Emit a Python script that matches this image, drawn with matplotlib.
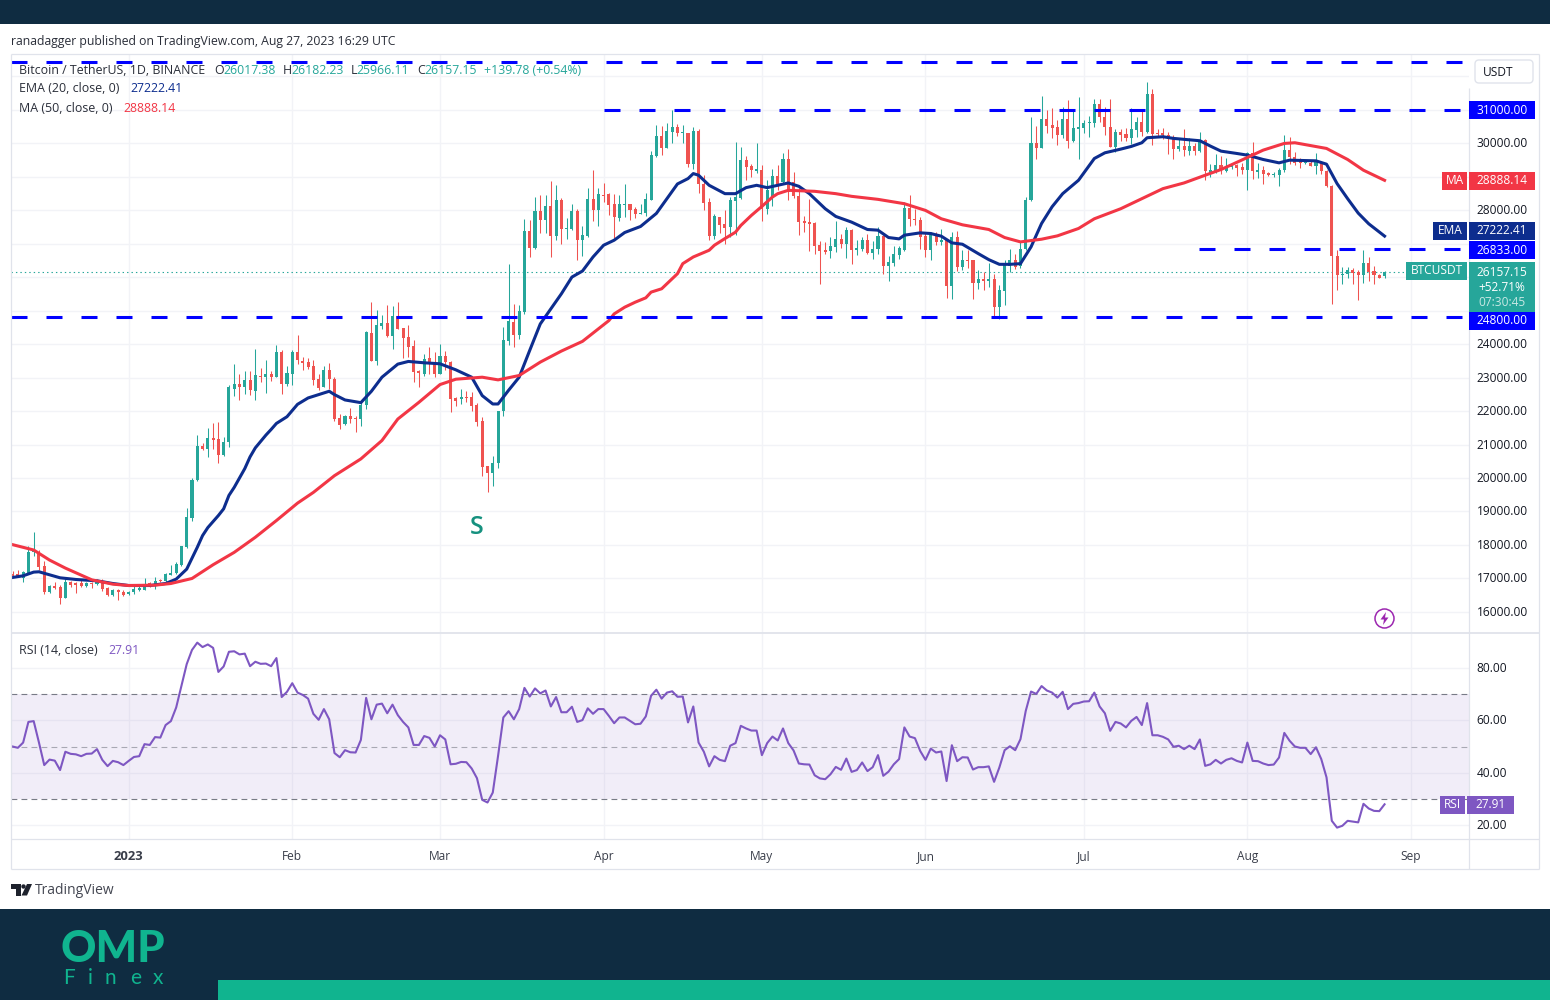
import matplotlib
matplotlib.use("Agg")
import matplotlib.pyplot as plt
from matplotlib.patches import Rectangle, FancyBboxPatch, Circle, Polygon
from matplotlib.transforms import ScaledTranslation

plt.rcParams['font.family'] = ['Open Sans', 'DejaVu Sans']
plt.rcParams['lines.scale_dashes'] = False

# ---------- data (day 0 = 1 Jan 2023, last candle = 27 Aug 2023) ----------
opens = [17130,17130,17000,17130,17780,17780,17360,16610,16780,16750,
16430,16890,16850,16850,16770,16860,16830,16930,16710,16510,
16650,16610,16530,16590,16670,16670,16850,16780,16950,16910,
17110,17150,17410,17930,18810,19930,20950,20880,21190,21150,
20680,21070,22650,22810,22710,22930,22610,23060,23010,23100,
23030,23760,22810,23110,23770,
23500,23450,23340,22950,22730,23230,22960,21790,21610,21850,
21800,21750,22170,24330,23490,24540,24620,24230,24850,24470,
24210,23930,23190,23110,23570,23460,23110,23650,23470,22390,
22350,22430,22430,22190,21710,20360,20140,20440,21990,24090,
24660,24260,24950,27380,26880,27970,27700,28110,27240,28310,
27420,27420,27970,27100,27240,28340,28010,28460,28470,28170,
27770,28140,28170,28040,27880,27900,28310,29620,30210,29850,
30340,30470,30290,30310,29390,30370,28790,28230,27220,27800,
27580,27490,28280,28370,29490,29320,29180,29210,28040,28370,
29030,28840,29510,28840,28410,27670,27640,27620,26960,26800,
26770,26900,27150,27000,27410,26800,26850,27120,26720,26830,
27220,26320,26430,26660,26820,28070,27740,27690,27220,26800,
27250,27050,27120,25720,27210,26300,26500,26500,25820,25930,
25880,25930,25100,25580,26330,26520,26320,26850,28290,30010,
29840,30710,30540,30490,30240,30710,30070,30410,30440,30590,
30610,31160,30770,30490,29870,30340,30270,30150,30390,30640,
30340,31460,30300,30290,30240,30140,29830,29910,29770,29910,
29770,30090,29090,29170,29340,29170,29290,29350,29290,29190,
29690,29150,29190,29110,29040,29050,29190,29790,29570,29470,
29410,29410,29310,29440,29170,28710,26620,26060,26080,26200,
26140,26060,26420,26180,26060,26017.38]

highs = [17230,17250,17230,17980,18380,17850,17530,16810,16880,16810,
17030,16930,16880,16980,16880,16880,16980,16980,16750,16680,
16680,16650,16630,16810,16780,17010,16880,17050,16980,17150,
17410,17480,17980,19110,20010,21290,21050,21480,21650,21680,
21210,22770,23400,23100,23200,23200,23850,23280,23530,23200,
23980,23810,23330,23810,24280,
23610,23590,23510,23110,23330,23430,23010,21910,21890,22090,
21860,22310,24390,25250,25020,24880,25180,25140,25250,24490,
24580,24130,23210,23710,23910,23760,24010,23790,23490,22410,
22650,22610,22560,22230,21810,20370,20670,22010,24500,26400,
25200,25180,27740,27710,28390,28460,28440,28860,28760,28370,
27770,28190,28040,27510,28660,29190,28660,28810,28510,28470,
28440,28770,28170,28090,28190,28510,29770,30540,30510,30610,
31000,30570,30540,30310,30470,30410,29040,28370,27890,27800,
27990,28390,30040,29890,29610,29390,29990,29340,28890,29240,
29340,29690,29810,29140,28670,27810,28340,27640,27080,27050,
27200,27670,27280,27490,27440,27100,27200,27280,27080,27480,
27250,26620,26920,26920,28240,28440,28040,27790,27350,27340,
27340,27440,27140,27340,27370,26820,26800,26520,26200,26150,
26420,26100,25750,26500,26850,26680,27050,28390,30790,30510,
31400,30980,31060,30690,31080,31280,30980,31380,30690,30800,
31330,31330,31080,31330,30410,30410,30440,31060,30790,30990,
31810,31610,30410,30440,30340,30240,30140,30410,30140,30010,
30340,30110,29370,29670,29610,29540,29410,29390,29410,29740,
30040,29410,29310,29130,29140,29270,30240,30170,29740,29540,
29470,29470,29690,29470,29210,28740,26820,26300,26300,26280,
26200,26820,26600,26320,26100,26182.23]

lows = [17030,17030,16880,17130,17680,17250,16550,16580,16680,16250,
16430,16750,16580,16750,16750,16730,16810,16630,16480,16480,
16350,16480,16510,16550,16630,16650,16750,16680,16880,16880,
17110,17130,17380,17910,18730,19910,20830,20630,20880,20450,
20670,20930,22450,22330,22510,22480,22330,22880,22550,22910,
23010,22510,22750,22780,23410,
23210,23260,22790,22630,22710,22660,21710,21450,21590,21650,
21360,21550,22070,23490,23360,24460,24210,23850,24450,23590,
23610,22860,22730,23060,23110,23010,23110,23230,21960,22160,
22210,22260,22010,21560,20070,19570,19770,20300,21840,23960,
23910,24160,24900,26600,26850,27320,27320,26600,27120,26990,
27140,27410,26500,26620,27210,27670,27510,28240,27840,27170,
27670,27790,27710,27770,27880,27810,28290,29590,29640,29840,
29990,30210,29990,29290,29240,28510,28010,27110,27150,27320,
26980,27200,27250,28340,28890,28990,29110,27670,27870,28110,
28610,28790,28310,28370,27260,27350,26780,26700,25800,26700,
26580,26740,26880,26580,26380,26650,26780,26680,26540,26700,
26080,25880,26330,26550,26780,27510,27540,26850,26600,26500,
26950,26950,25380,25350,26180,26200,26280,25350,25650,25600,
25700,24820,24750,25180,26150,26250,26280,26800,28270,29510,
29840,30290,30140,29940,30140,29840,30040,29530,30310,30170,
30490,30640,30240,29870,29740,30070,30070,29970,30190,30210,
30290,29930,30210,30110,29670,29530,29770,29610,29640,29640,
29740,28890,28990,29110,29070,29140,29240,29030,29090,28610,
28940,28970,28790,29010,28990,28710,29140,29370,29350,29270,
29390,29310,29090,29070,28690,25200,25620,25800,25980,25800,
25320,25820,25880,25780,25980,25966.11]

closes = [17070,17070,17200,17800,17850,17330,16610,16780,16730,16430,
16900,16810,16810,16770,16850,16830,16930,16680,16510,16650,
16610,16510,16610,16680,16730,16830,16790,16930,16910,17130,
17150,17430,17960,18850,19950,20950,20880,21190,21130,20680,
21080,22710,22810,22730,22930,22630,23070,23010,23100,23010,
23760,22810,23130,23770,23510,
23430,23310,22930,22690,23230,22960,21760,21590,21850,21760,
21750,22190,24350,23490,24560,24620,24230,24850,24450,24170,
23910,23160,23130,23560,23460,23110,23650,23460,22350,22290,
22430,22390,22160,21660,20340,20140,20460,21990,24130,24680,
24260,24980,27380,26880,27970,27700,28110,27240,28290,27440,
27460,27970,27100,27250,28340,28010,28470,28430,28140,27790,
28170,28170,28010,27870,27920,28330,29650,30210,29840,30370,
30470,30290,30320,29390,30370,28790,28210,27240,27810,27560,
27470,28290,28390,29490,29290,29190,29220,28040,28610,29010,
28790,29510,28540,28410,27640,27610,27570,26940,26770,26750,
26920,27150,27000,27400,26800,26880,27120,26720,26850,27220,
26320,26450,26680,26860,28070,27720,27690,27200,26800,27260,
27050,27120,25720,27210,26300,26500,26470,25820,25930,25880,
25930,25100,25600,26400,26520,26300,26850,28290,30010,29840,
30710,30510,30440,30240,30710,30070,30440,30470,30610,30640,
31160,30770,30490,29870,30340,30240,30140,30410,30640,30340,
31460,30270,30260,30240,30110,29830,29910,29790,29910,29760,
30090,29170,29210,29340,29190,29290,29350,29270,29210,29690,
29170,29190,29070,29040,29090,29210,29790,29570,29410,29410,
29440,29310,29440,29170,28710,26620,26050,26100,26200,26130,
26050,26420,26160,26060,25980,26157.15]

rsi = [50,49.5,51.5,59.4,59.7,51.5,42.9,45,44.6,41,
48,47.2,47,46.3,47.2,47.3,49,44.9,42.5,44.5,
44,42.9,44.5,46,46.3,50.9,50.6,53.6,53.4,58.2,
59.7,64.9,73.2,81.5,86.9,89.7,88,89,87.7,78.5,
80.6,86.2,86.4,85.2,85.5,80.7,82.4,81.6,81.7,80.7,
83.8,68.9,70.9,74.2,70.6,69.7,68.3,62.5,60.2,64.3,
60.4,47.5,45.9,48.6,47.8,47.7,52.5,68.6,60.4,66,
66.4,62.7,66,62,59.4,57.3,50.6,50.6,54,53.3,
50,54.3,52.7,43.2,43.4,44.1,44,41.6,37.9,29.6,
28.6,32.4,46.4,61.1,63.5,60.4,64.3,
72.4,69.1,72.2,70.3,71.4,65.3,68.9,63.1,63.1,65.2,
59.4,60.1,64.6,62.5,64.3,64.3,61.7,58.9,61.1,61.1,
59.8,58.5,58.7,61.5,69.4,71.7,68.3,70.6,71.1,69,
69.1,59.2,65.3,51.5,48,42.4,46.3,44.9,44.4,50.3,
51.3,57.9,56.9,56.1,56.1,46.7,51.3,53.8,52.3,56.9,
51.3,48.5,43.5,43.2,43.1,39,37.8,37.5,39.4,42.2,
41.1,45.4,40.3,41,43.9,40.6,42.1,46.7,38.8,40.4,
43.2,45.2,57.3,53.8,53.2,48.3,44.9,49.2,47.7,48.1,
36.8,50.5,44.4,45.9,45.8,41.2,42.1,42.1,42.4,36.5,
42,48.6,50.1,48.6,52.8,
63.6,71,70.1,73.1,71.4,70.6,68.7,70.9,64.3,66.3,
66.6,67.2,67.3,70.6,65.3,62.7,56,59.4,58.8,57.3,
59.8,61.3,58.2,66.6,54.3,54.3,53.7,52.7,49.9,50.3,
49,50.3,49,52.7,42.6,43.2,44.9,43.5,44.9,45.5,
44.5,43.9,51.5,44.5,44.4,43.5,42.9,43.1,45.8,55.2,
52.2,50,49.5,49.5,47.1,49.7,45.2,38.2,21.6,19,
19.7,21.6,21.3,21,28.1,26.3,25.4,25.3,27.91]

ema_days = [-22,-20,-18,-17,-15,-13,-10,-6,-3,0,4,7,9,11,13,14,15,17,18,19,20,22,23,24,26,27,28,30,32,
34,36,38,39,41,44,46,48,51,53,56,59,62,65,67,69,70,72,74,76,78,80,82,84,86,88,90,92,94,97,
100,102,104,106,107,108,110,113,115,117,119,121,125,127,129,132,134,137,140,142,144,146,147,
150,152,154,156,158,161,163,165,167,169,171,173,175,177,180,183,185,188,190,192,193,196,198,
203,205,207,210,212,215,218,220,225,227,229,231,233,235,238]
ema_vals = [17030,17080,17190,17200,17110,17020,16970,16930,16850,16790,16790,16850,16980,17280,17930,18280,18520,18880,19080,19480,19720,20280,20630,20900,21280,21450,21630,21830,22200,
22390,22490,22590,22490,22330,22250,22590,23010,23400,23480,23440,23410,23230,23010,22460,22210,22210,22620,23010,23810,24600,25050,25500,26000,26180,26600,26950,27100,27330,27510,
27900,28340,28780,28940,29090,29040,28740,28490,28490,28670,28740,28670,28810,28710,28490,28040,27810,27640,27420,27400,27180,27140,27250,
27320,27300,27220,27020,26980,26700,26520,26380,26380,26400,26900,27600,28100,28490,28890,29540,29710,29820,29900,30010,30160,30190,30140,
30070,29910,29760,29690,29640,29510,29410,29490,29470,29370,28790,28340,27910,27590,27222.41]

ma_days = [-22,-18,-15,-12,-7,-3,0,5,8,12,16,20,24,28,32,35,39,44,48,51,55,59,62,67,70,74,78,82,86,
91,92,94,96,98,99,101,104,105,107,110,111,113,115,116,118,120,122,123,125,130,134,137,142,147,151,154,158,163,166,169,173,176,
180,183,188,192,196,200,204,207,212,215,219,221,227,231,234,238]
ma_vals = [18010,17850,17550,17310,16960,16830,16790,16800,16850,17000,17410,17780,18230,18730,19250,19570,20070,20570,21120,21760,22260,22790,22950,23010,22930,23060,23460,23790,24080,
24700,24900,25100,25250,25380,25550,25650,26100,26400,26600,26800,26950,27150,27340,27540,27840,28110,28390,28490,28590,28560,28490,28410,28320,28190,27990,27740,27560,27420,27180,27050,27130,27230,
27450,27740,28040,28340,28640,28810,29040,29210,29570,29790,29990,30010,29840,29510,29190,28888.14]

level_prices = [32420, 31000, 26833, 24800]
level_start_days = [-22.3, 90, 202.8, -22.3]

price_ticks = list(range(16000, 33000, 1000))
price_tick_labels_shown = [16000,17000,18000,19000,20000,21000,22000,23000,24000,28000,30000]
rsi_ticks = [20, 40, 60, 80]
month_days = [0, 31, 59, 90, 120, 151, 181, 212, 243]
month_labels = ['2023', 'Feb', 'Mar', 'Apr', 'May', 'Jun', 'Jul', 'Aug', 'Sep']

# ---------- colours ----------
UP, DOWN = '#26a69a', '#ef5350'
EMA_C, MA_C, BLUE, RSI_C = '#0d2d8e', '#f23645', '#0000ff', '#7e57c2'
GRID, FRAME, TXT = '#f2f3f7', '#e0e3eb', '#131722'
DARK, TEAL = '#0f2c41', '#10b48f'

W, H = 1550, 1000
fig = plt.figure(figsize=(W/100, H/100), dpi=100, facecolor='white')
up1px = ScaledTranslation(0, 1/100, fig.dpi_scale_trans)
down1px = ScaledTranslation(0, -1.5/100, fig.dpi_scale_trans)

def axes_px(x0, y0, x1, y1):
    return fig.add_axes([x0/W, 1-y1/H, (x1-x0)/W, (y1-y0)/H])

n = len(closes)
days = [238 - (n-1-i) for i in range(n)]
XLIM = (-22.3, 254)

# ---------- price pane ----------
ax = axes_px(11, 54, 1469, 633)
ax.set_xlim(*XLIM)
ax.set_ylim(15372, 32660)
ax.set_yticks(price_ticks)
ax.set_yticklabels([f'{p:.2f}' if p in price_tick_labels_shown else '' for p in price_ticks],
                   fontsize=8.6, color=TXT)
ax.set_xticks(month_days)
ax.tick_params(axis='x', length=0, labelbottom=False)
ax.tick_params(axis='y', length=0, labelright=True, labelleft=False, pad=5.6, right=False, left=False)
for t in ax.yaxis.get_major_ticks():
    t.label2.set_transform(t.label2.get_transform() + up1px)
ax.grid(True, color=GRID, lw=1)
ax.set_axisbelow(True)
for s in ax.spines.values():
    s.set_visible(False)

colors = [UP if c >= o else DOWN for o, c in zip(opens, closes)]
ax.vlines(days, lows, highs, colors=colors, lw=0.75, zorder=2)
ax.bar(days, [max(abs(c-o), 25) for o, c in zip(opens, closes)],
       bottom=[min(o, c) for o, c in zip(opens, closes)],
       width=0.58, color=colors, lw=0, zorder=3)
ax.plot(ema_days, ema_vals, color=EMA_C, lw=2.2, zorder=4, solid_joinstyle='round')
ax.plot(ma_days, ma_vals, color=MA_C, lw=2.2, zorder=4, solid_joinstyle='round')
ax.axhline(closes[-1], color=UP, lw=0.8, ls=(0, (1, 2.2)), zorder=1)
for p, d0 in zip(level_prices, level_start_days):
    ax.plot([d0, XLIM[1]], [p, p], color=BLUE, lw=2.2, ls=(0, (11.52, 13.68)),
            dash_capstyle='butt', zorder=5)

# ---------- RSI pane ----------
axr = axes_px(11, 634, 1469, 839)
axr.set_xlim(*XLIM)
axr.set_ylim(14.65, 93)
axr.set_yticks(rsi_ticks)
axr.set_yticklabels([f'{v:.2f}' for v in rsi_ticks], fontsize=8.6, color=TXT)
axr.tick_params(axis='y', length=0, labelright=True, labelleft=False, pad=5.6, right=False, left=False)
for t in axr.yaxis.get_major_ticks():
    t.label2.set_transform(t.label2.get_transform() + up1px)
axr.set_xticks(month_days)
axr.set_xticklabels(month_labels, fontsize=8.6, color='#3a3e4a')
axr.get_xticklabels()[0].set_fontweight('bold')
axr.get_xticklabels()[0].set_fontsize(9.4)
axr.tick_params(axis='x', length=0, pad=7.7)
axr.grid(True, color=GRID, lw=1)
axr.set_axisbelow(True)
for s in axr.spines.values():
    s.set_visible(False)
axr.axhspan(30, 70, color=RSI_C, alpha=0.1, lw=0, zorder=1)
for lv, a in zip([70, 50, 30], [1, 0.6, 1]):
    axr.axhline(lv, color='#787b86', lw=0.8, ls=(0, (4.2, 3)), alpha=a, zorder=2)
axr.plot(days, rsi, color=RSI_C, lw=1.5, zorder=3, solid_joinstyle='round')

# ---------- overlay in pixel coordinates ----------
ov = fig.add_axes([0, 0, 1, 1], zorder=10)
ov.set_xlim(0, W)
ov.set_ylim(H, 0)
ov.axis('off')
ov.patch.set_alpha(0)

def rect(x0, y0, x1, y1, c, z=1):
    ov.add_patch(Rectangle((x0, y0), x1-x0, y1-y0, fc=c, ec='none', zorder=z))

def line(x0, y0, x1, y1, c=FRAME, lw=0.9):
    ov.plot([x0, x1], [y0, y1], color=c, lw=lw, solid_capstyle='butt', zorder=1)

def txt(x, y, s, c=TXT, fs=8.6, ha='left', z=5, **kw):
    ov.text(x, y+1, s, color=c, fontsize=fs, ha=ha, va='center', zorder=z, **kw)

# brand bars
rect(0, 0, W, 24, DARK)
rect(0, 909, W, H, DARK)
rect(218, 980, W, H, TEAL, z=2)
txt(60, 948, 'OMP', c=TEAL, fs=31.5, family=['Lato', 'DejaVu Sans'], fontweight='black')
for fx, ch in zip([63, 88, 105, 130, 153], 'Finex'):
    txt(fx, 977, ch, c=TEAL, fs=15, family=['Lato', 'DejaVu Sans'])

# frame
line(11, 54, 1539, 54)
line(11, 54, 11, 869)
line(1539, 54, 1539, 869)
line(11, 869, 1539, 869)
line(11, 633, 1539, 633, lw=1.3)
line(11, 839, 1539, 839)
line(1469, 88, 1469, 869)

# header and legend
LEG = 8.95
txt(11, 40, 'ranadagger published on TradingView.com, Aug 27, 2023 16:29 UTC', c='#2a2e39', fs=8.85)
txt(19, 70, 'Bitcoin / TetherUS, 1D, BINANCE', fs=LEG, c='#2a2e39')
for x, s in [(214, 'O'), (283, 'H'), (351, 'L'), (417, 'C')]:
    txt(x, 70, s, fs=LEG, c='#2a2e39')
for x, s in [(223, '26017.38'), (291, '26182.23'), (356, '25966.11'), (424, '26157.15'),
             (484, '+139.78 (+0.54%)')]:
    txt(x, 70, s, fs=8.8, c=UP)
txt(19, 88, 'EMA (20, close, 0)', fs=LEG, c='#2a2e39')
txt(130, 88, '27222.41', fs=8.8, c=EMA_C)
txt(19, 107, 'MA (50, close, 0)', fs=LEG, c='#2a2e39')
txt(123, 107, '28888.14', fs=8.8, c=MA_C)
txt(19, 649, 'RSI (14, close)', fs=LEG, c='#2a2e39')
txt(108, 649, '27.91', fs=8.8, c=RSI_C)

# annotation
txt(477, 526, 'S', c='#16917f', fs=18, ha='center', fontweight='semibold')

# USDT button
ov.add_patch(FancyBboxPatch((1475, 60), 58, 23, boxstyle='round,pad=0,rounding_size=4',
                            fc='white', ec=FRAME, lw=1, zorder=3))
txt(1483, 71, 'USDT', fs=8.6)

def tag(x0, x1, yc, s, c, h=18.5, fc='white'):
    rect(x0, yc-h/2, x1, yc+h/2, c, z=4)
    txt((x0+x1)/2, yc-1, s, c=fc, fs=8.6, ha='center')

tag(1469, 1535, 110, '31000.00', BLUE)
tag(1442, 1467, 181, 'MA', MA_C)
tag(1469, 1535, 181, '28888.14', MA_C)
tag(1433, 1467, 231, 'EMA', EMA_C)
tag(1469, 1535, 231, '27222.41', EMA_C)
tag(1469, 1535, 250, '26833.00', BLUE)
tag(1406, 1467, 271, 'BTCUSDT', UP)
rect(1469, 262, 1535, 312, UP, z=4)
txt(1502, 271, '26157.15', c='white', ha='center')
txt(1502, 286.5, '+52.71%', c='white', ha='center')
txt(1502, 302, '07:30:45', c='#c8e8e4', ha='center')
tag(1469, 1535, 321, '24800.00', BLUE)
tag(1440, 1465, 805, 'RSI', RSI_C)
tag(1467, 1514, 805, '27.91', RSI_C)

# replay icon
ov.add_patch(Circle((1384.5, 618.5), 9.5, fc='white', ec='#9c27b0', lw=1.1, zorder=4))
ov.add_patch(Polygon([(1386, 612), (1380.5, 619.5), (1384, 619.5), (1383, 625), (1388.5, 617.5), (1385, 617.5)],
                     fc='#9c27b0', ec='none', zorder=5))

# TradingView logo
ov.add_patch(Polygon([(11, 884), (21, 884), (21, 895.5), (16, 895.5), (16, 889), (11, 889)], fc='#1e222d', ec='none'))
ov.add_patch(Circle((23.5, 886.5), 2.2, fc='#1e222d', ec='none'))
ov.add_patch(Polygon([(27, 884), (32, 884), (27, 895.5), (21.5, 895.5)], fc='#1e222d', ec='none'))
txt(35, 889, 'TradingView', c='#434651', fs=10)

fig.savefig('out.png', dpi=100, facecolor='white')
